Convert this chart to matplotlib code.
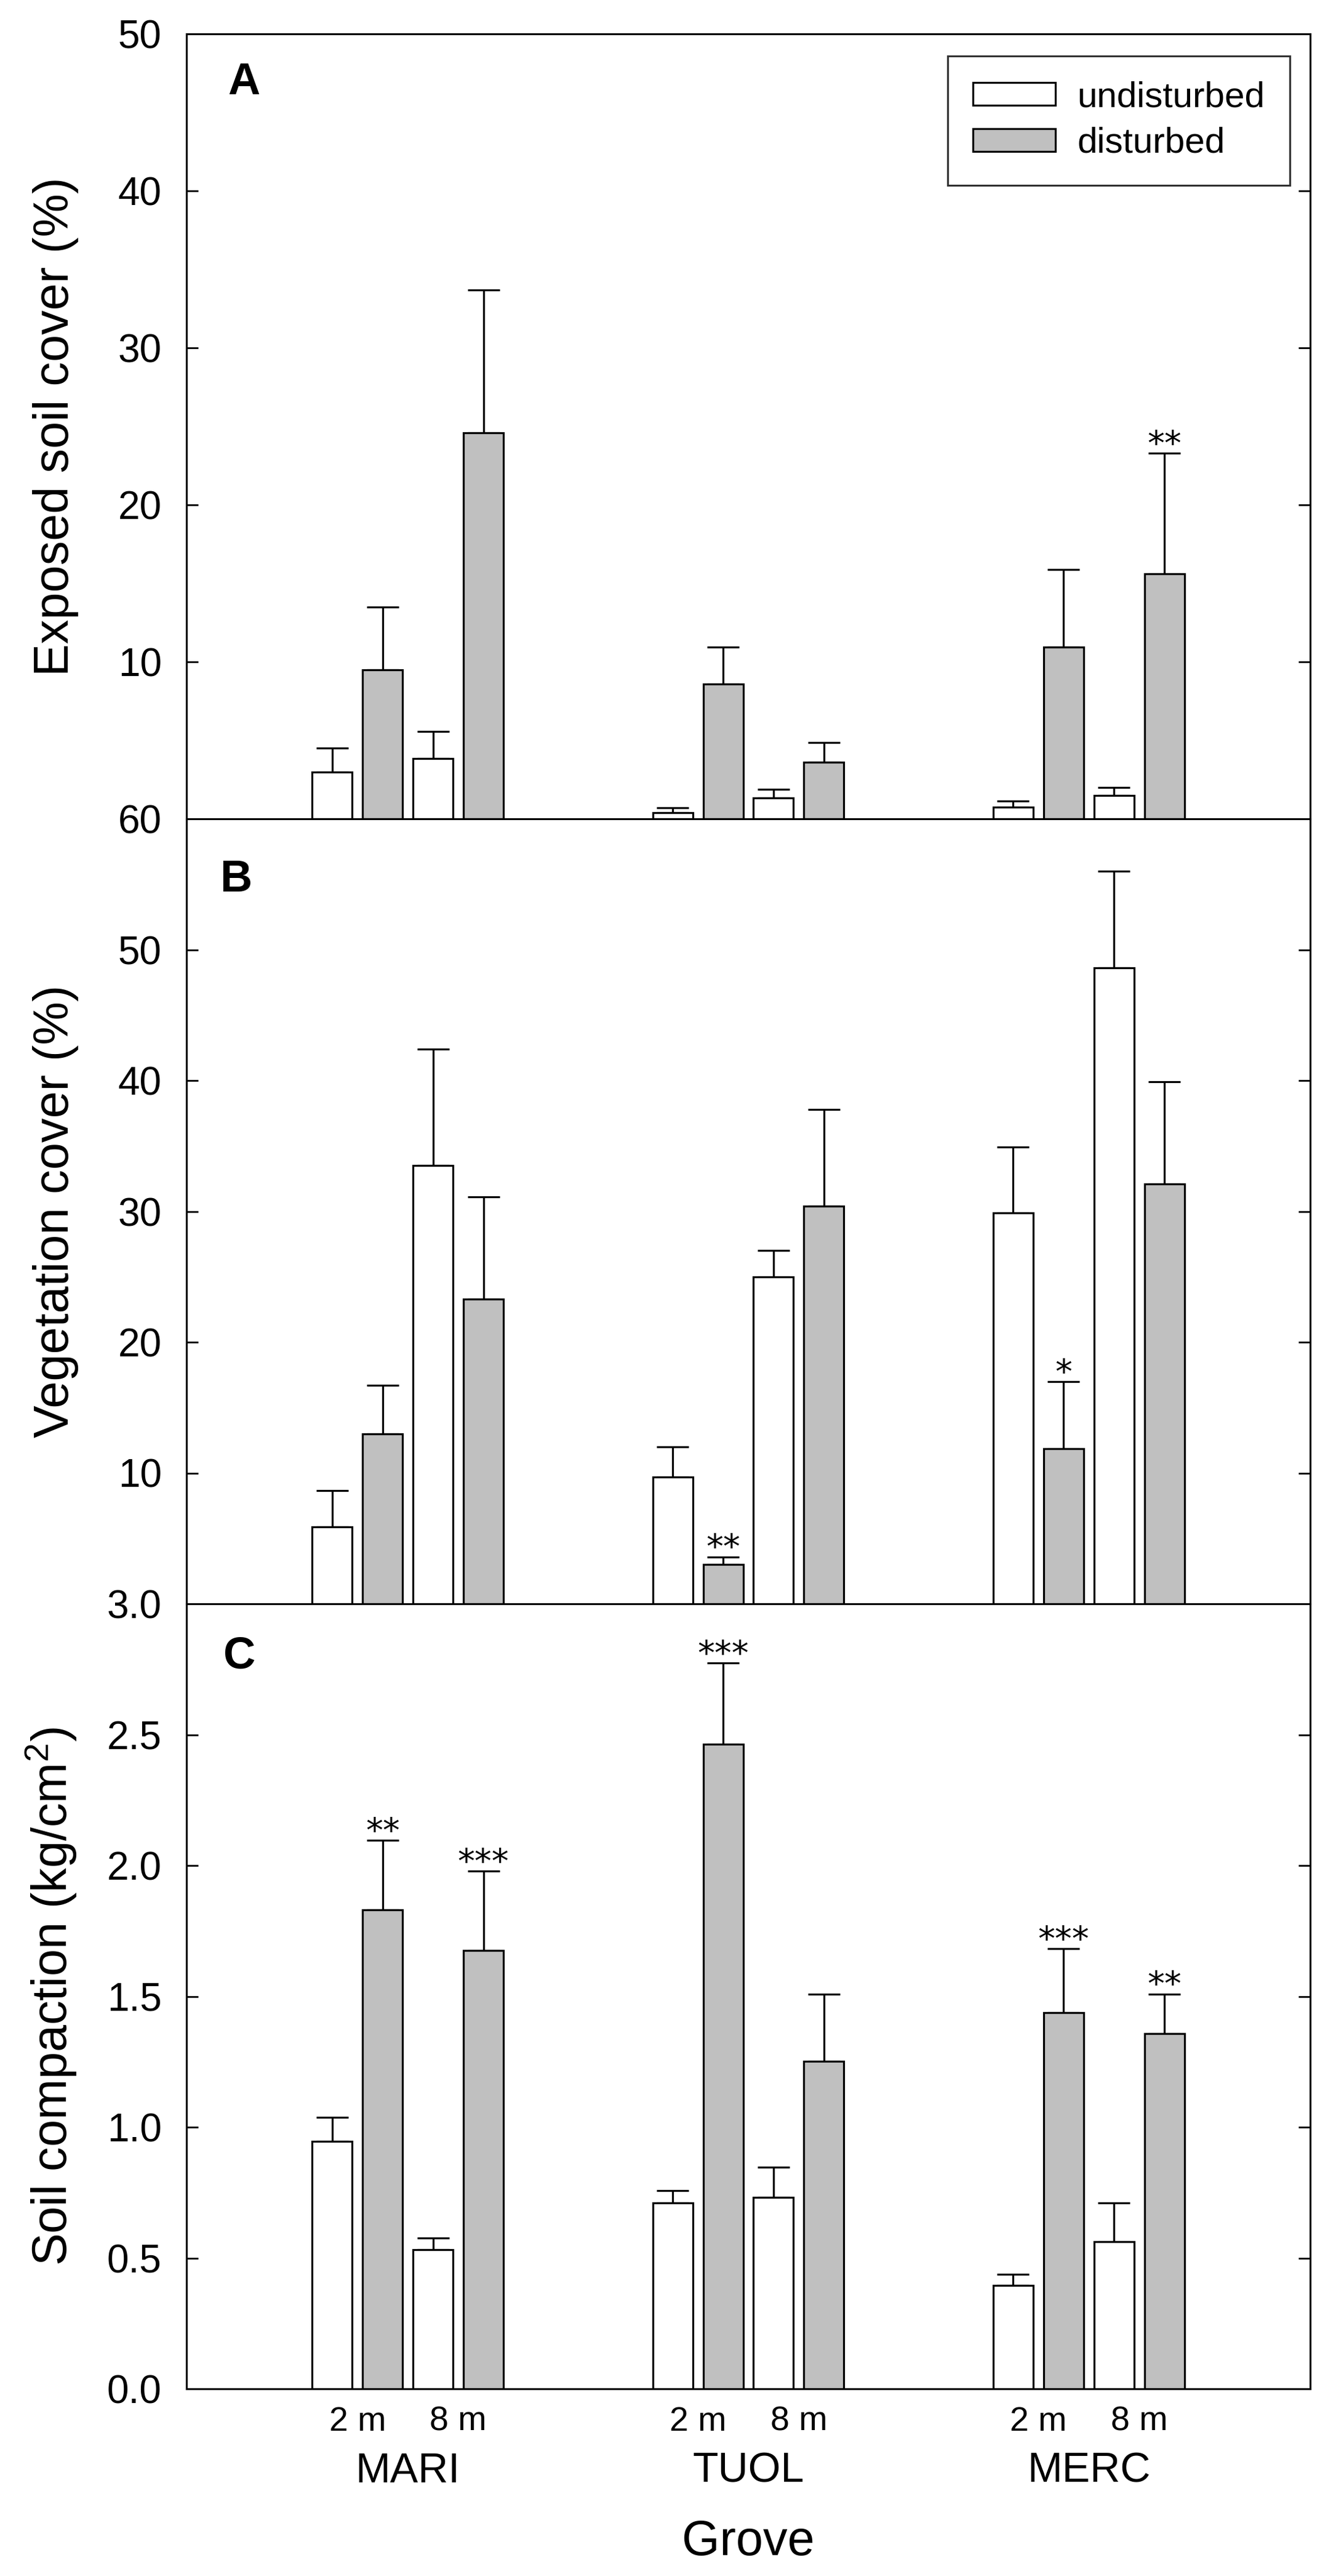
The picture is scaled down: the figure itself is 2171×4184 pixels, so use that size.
import matplotlib
matplotlib.use("Agg")
import matplotlib.pyplot as plt
import numpy as np

plt.rcParams['font.family'] = ['Liberation Sans', 'DejaVu Sans']
plt.rcParams['mathtext.fontset'] = 'custom'
plt.rcParams['mathtext.rm'] = 'Liberation Sans'
plt.rcParams['mathtext.default'] = 'regular'

# ---------------- data ----------------
groves = ["MARI", "TUOL", "MERC"]
distances = ["2 m", "8 m"]
series = ["undisturbed", "disturbed"]

# Panel A: exposed soil cover (%)
A_undist_2m = [3.0, 0.4, 0.75]
A_undist_2m_se = [1.5, 0.3, 0.4]
A_dist_2m = [9.5, 8.6, 10.95]
A_dist_2m_se = [4.0, 2.35, 4.95]
A_undist_8m = [3.86, 1.35, 1.5]
A_undist_8m_se = [1.7, 0.55, 0.5]
A_dist_8m = [24.6, 3.6, 15.6]
A_dist_8m_se = [9.1, 1.27, 7.7]
A_sig_dist_2m = ["", "", ""]
A_sig_dist_8m = ["", "", "**"]

# Panel B: vegetation cover (%)
B_undist_2m = [5.9, 9.7, 29.9]
B_undist_2m_se = [2.75, 2.3, 5.0]
B_dist_2m = [13.0, 3.0, 11.85]
B_dist_2m_se = [3.7, 0.6, 5.15]
B_undist_8m = [33.5, 25.0, 48.6]
B_undist_8m_se = [8.9, 2.0, 7.4]
B_dist_8m = [23.3, 30.4, 32.1]
B_dist_8m_se = [7.8, 7.4, 7.8]
B_sig_dist_2m = ["", "**", "*"]
B_sig_dist_8m = ["", "", ""]

# Panel C: soil compaction (kg/cm2)
C_undist_2m = [0.945, 0.711, 0.396]
C_undist_2m_se = [0.093, 0.047, 0.042]
C_dist_2m = [1.83, 2.464, 1.438]
C_dist_2m_se = [0.267, 0.309, 0.244]
C_undist_8m = [0.531, 0.732, 0.562]
C_undist_8m_se = [0.045, 0.114, 0.149]
C_dist_8m = [1.675, 1.251, 1.358]
C_dist_8m_se = [0.304, 0.258, 0.151]
C_sig_dist_2m = ["**", "***", "***"]
C_sig_dist_8m = ["***", "", "**"]

A_yticks = [0, 10, 20, 30, 40, 50]
A_yticklabels = ["", "10", "20", "30", "40", "50"]
B_yticks = [0, 10, 20, 30, 40, 50, 60]
B_yticklabels = ["", "10", "20", "30", "40", "50", "60"]
C_yticks = [0.0, 0.5, 1.0, 1.5, 2.0, 2.5, 3.0]
C_yticklabels = ["0.0", "0.5", "1.0", "1.5", "2.0", "2.5", "3.0"]

# ---------------- style ----------------
W, H, DPI = 2171, 4184, 100
fig = plt.figure(figsize=(W / DPI, H / DPI), dpi=DPI)

left = 303 / W
width = (2129 - 303) / W
ph = 1275 / H
bottoms = [1 - 1330 / H, 1 - 2605 / H, 1 - 3880 / H]

grey = "#c0c0c0"
lw = 2.3
offsets = [-0.222, -0.074, 0.074, 0.222]
barw = 0.1175
xg = np.arange(1, len(groves) + 1)

panels = [
    dict(letter="A", ylabel="Exposed soil cover (%)", ylim=(0, 50),
         yt=A_yticks, ytl=A_yticklabels, letter_xy=(0.051, 0.938),
         vals=[A_undist_2m, A_dist_2m, A_undist_8m, A_dist_8m],
         errs=[A_undist_2m_se, A_dist_2m_se, A_undist_8m_se, A_dist_8m_se],
         sig=[None, A_sig_dist_2m, None, A_sig_dist_8m]),
    dict(letter="B", ylabel="Vegetation cover (%)", ylim=(0, 60),
         yt=B_yticks, ytl=B_yticklabels, letter_xy=(0.044, 0.922),
         vals=[B_undist_2m, B_dist_2m, B_undist_8m, B_dist_8m],
         errs=[B_undist_2m_se, B_dist_2m_se, B_undist_8m_se, B_dist_8m_se],
         sig=[None, B_sig_dist_2m, None, B_sig_dist_8m]),
    dict(letter="C", ylabel="Soil compaction (kg/cm$^2$)", ylim=(0, 3.0),
         yt=C_yticks, ytl=C_yticklabels, letter_xy=(0.047, 0.933),
         vals=[C_undist_2m, C_dist_2m, C_undist_8m, C_dist_8m],
         errs=[C_undist_2m_se, C_dist_2m_se, C_undist_8m_se, C_dist_8m_se],
         sig=[None, C_sig_dist_2m, None, C_sig_dist_8m]),
]

colors = ["white", grey, "white", grey]
axes = []
for i, p in enumerate(panels):
    ax = fig.add_axes([left, bottoms[i], width, ph])
    axes.append(ax)
    handles = []
    for k in range(4):
        xs = xg + offsets[k]
        ax.errorbar(xs, p["vals"][k],
                    yerr=[np.zeros(len(xs)), p["errs"][k]],
                    fmt="none", ecolor="black", elinewidth=lw,
                    capsize=19, capthick=lw, zorder=1)
        b = ax.bar(xs, p["vals"][k], width=barw, color=colors[k],
                   edgecolor="black", linewidth=lw, zorder=2)
        handles.append(b)
        if p["sig"][k] is not None:
            for j, s in enumerate(p["sig"][k]):
                if s:
                    top = p["vals"][k][j] + p["errs"][k][j]
                    ax.annotate(s, (xs[j], top), xytext=(0, -2),
                                textcoords="offset points", ha="center",
                                va="baseline", fontsize=40,
                                family="DejaVu Sans", zorder=4)
    ax.set_xlim(0.35, 3.65)
    ax.set_ylim(*p["ylim"])
    ax.set_yticks(p["yt"])
    ax.set_yticklabels(p["ytl"])
    ax.tick_params(axis="y", direction="in", length=14, width=2.0,
                   labelsize=46, pad=29, right=True, left=True)
    for sp in ax.spines.values():
        sp.set_linewidth(2.2)
        sp.set_zorder(5)
    ax.set_ylabel(p["ylabel"], fontsize=57)
    ax.yaxis.set_label_coords(-0.096, 0.5)
    ax.text(p["letter_xy"][0], p["letter_xy"][1], p["letter"],
            transform=ax.transAxes, fontsize=52, fontweight="bold",
            ha="center", va="center")
    if i < 2:
        ax.set_xticks([])
    else:
        tpos = []
        tlab = []
        for g in xg:
            tpos += [g - 0.148, g + 0.148]
            tlab += distances
        ax.set_xticks(tpos)
        ax.set_xticklabels(tlab)
        ax.tick_params(axis="x", length=0, labelsize=40, pad=20)
        for g, name in zip(xg, groves):
            ax.text(g, -0.105, name, transform=ax.get_xaxis_transform(),
                    ha="center", va="center", fontsize=49)
        ax.text(0.5, -0.196, "Grove", transform=ax.transAxes,
                ha="center", va="center", fontsize=57)
    if i == 0:
        leg = ax.legend([handles[0], handles[1]], series, loc="upper right",
                        bbox_to_anchor=(0.982, 0.972), fontsize=42,
                        frameon=True, fancybox=False, edgecolor="black",
                        handlelength=2.3, handleheight=0.6,
                        handletextpad=0.6, labelspacing=0.35,
                        borderpad=0.7, borderaxespad=0)
        leg.get_frame().set_linewidth(2.2)

fig.savefig("out.png", dpi=DPI)
